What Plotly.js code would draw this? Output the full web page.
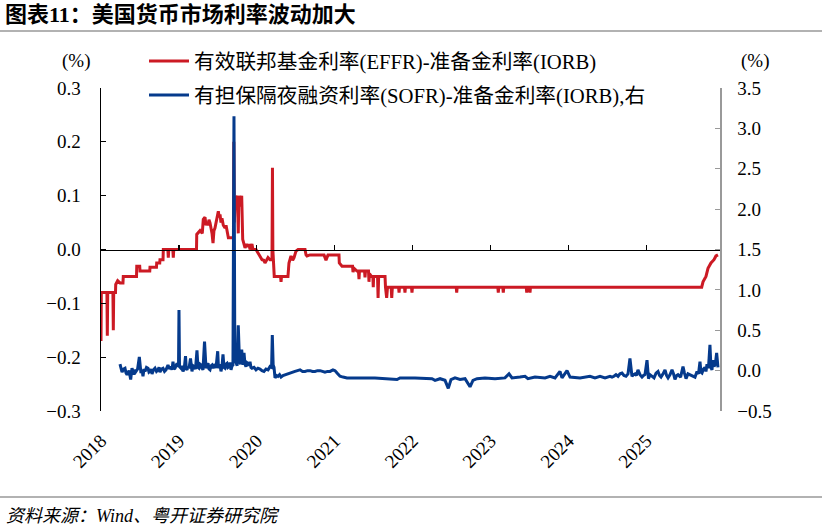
<!DOCTYPE html>
<html><head><meta charset="utf-8">
<script src="https://cdn.plot.ly/plotly-3.0.1.min.js"></script>
<style>html,body{margin:0;padding:0;background:#fff;}#chart{width:822px;height:530px;}</style>
</head><body><div id="chart"></div>
<script>
// ---- data (x in decimal years) ----
const yearTicks = [2018, 2019, 2020, 2021, 2022, 2023, 2024, 2025];
const yearLabels = ['2018', '2019', '2020', '2021', '2022', '2023', '2024', '2025'];
const leftTicks = [-0.3, -0.2, -0.1, 0.0, 0.1, 0.2, 0.3];
const rightTicks = [-0.5, 0.0, 0.5, 1.0, 1.5, 2.0, 2.5, 3.0, 3.5];

const effrName = '有效联邦基金利率(EFFR)-准备金利率(IORB)';
const sofrName = '有担保隔夜融资利率(SOFR)-准备金利率(IORB),右';

const effrDates = [
2018.000,2018.004,2018.076,2018.081,2018.086,2018.153,2018.158,2018.163,2018.186,2018.189,
2018.214,2018.244,2018.282,2018.286,2018.456,2018.459,2018.497,2018.501,2018.626,2018.629,
2018.712,2018.715,2018.754,2018.757,2018.796,2018.800,2018.858,2018.864,2018.870,2018.922,
2018.928,2018.934,2019.226,2019.229,2019.271,2019.300,2019.313,2019.335,2019.348,2019.361,
2019.373,2019.386,2019.399,2019.412,2019.425,2019.438,2019.450,2019.463,2019.485,2019.506,
2019.517,2019.528,2019.540,2019.553,2019.570,2019.592,2019.605,2019.617,2019.635,2019.656,
2019.700,2019.705,2019.712,2019.722,2019.735,2019.752,2019.762,2019.770,2019.790,2019.806,
2019.812,2019.819,2019.849,2019.870,2019.887,2019.900,2019.913,2019.938,2019.950,2019.990,
2020.010,2020.041,2020.067,2020.090,2020.105,2020.125,2020.144,2020.170,2020.195,2020.201,
2020.206,2020.224,2020.305,2020.311,2020.317,2020.400,2020.413,2020.439,2020.460,2020.478,
2020.503,2020.530,2020.555,2020.619,2020.632,2020.644,2020.683,2020.863,2020.888,2020.914,
2021.055,2021.059,2021.094,2021.229,2021.235,2021.248,2021.286,2021.305,2021.312,2021.318,
2021.383,2021.389,2021.395,2021.434,2021.440,2021.446,2021.472,2021.490,2021.495,2021.500,
2021.550,2021.557,2021.564,2021.646,2021.652,2021.667,2021.678,2021.725,2021.732,2021.740,
2021.820,2021.826,2021.832,2021.896,2021.902,2021.908,2021.986,2021.992,2021.998,2022.560,
2022.566,2022.572,2023.094,2023.100,2023.106,2023.158,2023.164,2023.170,2023.459,2023.465,
2023.471,2023.501,2023.507,2023.513,2025.711,2025.728,2025.766,2025.792,2025.830,2025.869,
2025.894,2025.920];
const effrSpread = [
-0.17,-0.08,-0.08,-0.16,-0.08,-0.08,-0.15,-0.08,-0.08,-0.065,
-0.058,-0.062,-0.062,-0.05,-0.05,-0.031,-0.031,-0.04,-0.04,-0.033,
-0.033,-0.025,-0.025,-0.019,-0.019,0,0,-0.015,0,0,
-0.015,0,0,0.028,0.035,0.03,0.056,0.06,0.045,0.05,
0.045,0.055,0.05,0.04,0.03,0.012,0.035,0.04,0.055,0.071,
0.06,0.065,0.05,0.058,0.045,0.04,0.045,0.034,0.022,0.022,
0.022,0.20,0.05,0.10,0.09,0.10,0.03,0.10,0.08,0.10,
0.03,0.019,0.003,0.01,0.005,0.01,0.0,0.01,0,0,
-0.005,-0.012,-0.019,-0.02,-0.025,-0.02,-0.015,-0.019,-0.019,0.152,
0.0,-0.05,-0.05,-0.06,-0.05,-0.05,-0.025,-0.012,-0.02,-0.015,
-0.003,0,0,0,-0.01,-0.012,-0.01,-0.01,-0.02,-0.01,
-0.01,-0.025,-0.031,-0.031,-0.042,-0.035,-0.04,-0.04,-0.055,-0.04,
-0.04,-0.052,-0.04,-0.04,-0.06,-0.045,-0.05,-0.05,-0.07,-0.05,
-0.05,-0.09,-0.05,-0.05,-0.07,-0.09,-0.07,-0.07,-0.09,-0.07,
-0.07,-0.08,-0.07,-0.07,-0.08,-0.07,-0.07,-0.08,-0.07,-0.07,
-0.08,-0.07,-0.07,-0.08,-0.07,-0.07,-0.08,-0.07,-0.07,-0.08,
-0.07,-0.07,-0.08,-0.07,-0.07,-0.06,-0.05,-0.035,-0.025,-0.019,
-0.012,-0.01];

const sofrDates = [
2018.244,2018.257,2018.270,2018.289,2018.308,2018.321,2018.334,2018.360,2018.381,2018.398,
2018.411,2018.424,2018.437,2018.449,2018.470,2018.492,2018.513,2018.526,2018.539,2018.552,
2018.565,2018.584,2018.603,2018.616,2018.629,2018.642,2018.655,2018.674,2018.693,2018.712,
2018.732,2018.745,2018.757,2018.776,2018.796,2018.815,2018.834,2018.847,2018.860,2018.880,
2018.899,2018.911,2018.924,2018.937,2018.950,2018.963,2018.976,2018.995,2019.001,2019.008,
2019.027,2019.040,2019.053,2019.070,2019.085,2019.095,2019.104,2019.117,2019.130,2019.149,
2019.160,2019.168,2019.181,2019.194,2019.213,2019.232,2019.245,2019.258,2019.271,2019.284,
2019.297,2019.309,2019.329,2019.340,2019.348,2019.361,2019.374,2019.387,2019.399,2019.412,
2019.425,2019.438,2019.451,2019.463,2019.476,2019.498,2019.507,2019.515,2019.528,2019.540,
2019.553,2019.566,2019.579,2019.592,2019.605,2019.617,2019.630,2019.643,2019.656,2019.669,
2019.682,2019.694,2019.707,2019.718,2019.733,2019.748,2019.762,2019.778,2019.792,2019.806,
2019.823,2019.836,2019.848,2019.861,2019.874,2019.887,2019.900,2019.913,2019.925,2019.938,
2019.964,2019.990,2020.015,2020.041,2020.067,2020.092,2020.118,2020.144,2020.170,2020.190,
2020.199,2020.210,2020.221,2020.234,2020.253,2020.272,2020.292,2020.311,2020.336,2020.362,
2020.394,2020.426,2020.458,2020.490,2020.522,2020.555,2020.587,2020.619,2020.651,2020.683,
2020.715,2020.747,2020.779,2020.811,2020.843,2020.875,2020.908,2020.940,2020.978,2021.004,
2021.030,2021.068,2021.107,2021.158,2021.325,2021.517,2021.800,2021.838,2022.031,2022.249,
2022.288,2022.352,2022.416,2022.458,2022.493,2022.544,2022.609,2022.673,2022.737,2022.775,
2022.827,2022.929,2023.058,2023.186,2023.238,2023.276,2023.379,2023.443,2023.481,2023.571,
2023.700,2023.764,2023.828,2023.892,2023.918,2023.982,2024.021,2024.149,2024.277,2024.341,
2024.406,2024.470,2024.534,2024.560,2024.585,2024.611,2024.637,2024.662,2024.688,2024.713,
2024.739,2024.765,2024.790,2024.816,2024.835,2024.855,2024.874,2024.893,2024.919,2024.945,
2024.964,2024.983,2025.009,2025.028,2025.047,2025.073,2025.099,2025.125,2025.150,2025.170,
2025.189,2025.215,2025.240,2025.260,2025.279,2025.305,2025.330,2025.350,2025.368,2025.390,
2025.407,2025.440,2025.471,2025.490,2025.510,2025.535,2025.561,2025.593,2025.625,2025.651,
2025.670,2025.689,2025.702,2025.715,2025.734,2025.753,2025.766,2025.779,2025.798,2025.817,
2025.830,2025.843,2025.856,2025.869,2025.886,2025.903,2025.912,2025.920];
const sofrSpread = [
0.08,0.01,-0.02,0.02,0.03,-0.03,-0.05,0.0,-0.11,0.03,
-0.02,-0.05,0.01,-0.01,0.02,0.17,-0.03,0.01,-0.07,0.02,
-0.01,0.04,0.03,-0.02,-0.01,0.02,-0.04,0.01,0.03,-0.01,
0.01,0.04,-0.02,0.02,0.03,-0.01,0.01,0.05,0.07,0.02,
0.05,0.01,0.11,0.02,0.03,0.06,0.09,0.05,0.75,0.05,
0.03,0.06,-0.01,0.04,0.18,0.02,0.01,0.05,0.03,0.15,
0.02,-0.01,0.06,0.05,0.02,0.25,0.04,0.03,0.08,0.07,
0.03,0.01,0.36,0.04,0.03,0.07,0.09,0.02,0.01,0.06,
0.07,0.03,0.05,0.08,0.03,0.24,0.06,0.03,0.08,-0.01,
0.05,0.20,0.04,0.03,0.08,0.09,0.04,0.05,0.10,0.01,
0.06,0.07,3.15,0.13,0.10,0.06,0.56,0.11,0.08,0.26,
0.07,0.22,0.08,0.05,0.10,0.09,0.06,0.11,0.04,0.03,
0.04,0.01,0.03,0.02,0.0,-0.01,0.02,0.01,0.05,0.04,
0.44,0.07,0.04,-0.09,-0.06,-0.07,-0.05,-0.08,-0.06,-0.05,
-0.04,-0.03,-0.02,-0.01,0.0,0.01,-0.01,-0.01,0.0,0.0,
-0.01,-0.01,0.0,0.0,-0.01,-0.02,-0.01,-0.01,0.01,0.0,
-0.03,-0.07,-0.08,-0.09,-0.09,-0.09,-0.11,-0.09,-0.09,-0.10,
-0.12,-0.10,-0.12,-0.22,-0.11,-0.09,-0.11,-0.10,-0.20,-0.12,
-0.10,-0.09,-0.10,-0.09,-0.04,-0.09,-0.08,-0.07,-0.10,-0.08,
-0.09,-0.07,-0.09,-0.01,-0.09,0.0,-0.08,-0.09,-0.07,-0.09,
-0.07,-0.09,-0.07,-0.08,-0.07,-0.05,-0.07,-0.04,-0.03,-0.06,
-0.07,-0.04,0.15,-0.07,-0.05,-0.04,-0.06,0.01,-0.05,-0.08,
-0.06,-0.05,0.13,-0.10,-0.05,-0.07,-0.09,-0.03,-0.01,-0.06,
-0.08,-0.04,0.01,-0.06,-0.09,-0.05,0.01,-0.04,-0.11,-0.06,
-0.05,-0.08,0.05,-0.03,-0.10,-0.04,-0.05,-0.07,-0.08,-0.01,
-0.04,0.11,-0.02,-0.03,0.02,0.04,-0.01,0.08,0.03,0.32,
0.04,0.01,0.13,0.05,0.08,0.22,0.06,0.04];

// ---- layout helpers (pixel -> paper) ----
const L = 101, R = 720, T = 88, B = 411;
const fx = p => (p - L) / (R - L);
const fy = p => (B - p) / (B - T);
const serif = 'Liberation Serif, "Noto Sans CJK SC", serif';

const traces = [
  {x: effrDates, y: effrSpread, name: effrName, type: 'scatter', mode: 'lines',
   xaxis: 'x', yaxis: 'y', legend: 'legend',
   line: {color: '#CC1A24', width: 3}, hoverinfo: 'skip'},
  {x: sofrDates, y: sofrSpread, name: sofrName, type: 'scatter', mode: 'lines',
   xaxis: 'x', yaxis: 'y2', legend: 'legend2',
   line: {color: '#053A8C', width: 3}, hoverinfo: 'skip'},
  {x: [yearTicks[0]], y: [0], xaxis: 'x2', yaxis: 'y', type: 'scatter', mode: 'lines',
   showlegend: false, hoverinfo: 'skip', line: {width: 0}}
];

const xr = [2018, 2025.946];
const layout = {
  width: 822, height: 530,
  margin: {l: L, r: 822 - R, t: T, b: 530 - B, pad: 0},
  paper_bgcolor: '#fff', plot_bgcolor: '#fff',
  font: {family: serif, color: '#000', size: 19},
  title: {text: '<b>图表11：美国货币市场利率波动加大</b>', xref: 'container', yref: 'container',
          x: 5 / 822, xanchor: 'left', y: 1 - 7 / 530, yanchor: 'top',
          font: {family: serif, size: 22, color: '#000'}},
  xaxis: {range: xr, tickmode: 'array', tickvals: yearTicks, ticktext: yearLabels,
          tickangle: -45, showline: false, ticks: '', showgrid: false, zeroline: false,
          ticklabelstandoff: 14,
          tickfont: {family: serif, size: 19, color: '#000'}, fixedrange: true},
  xaxis2: {range: xr, overlaying: 'x', anchor: 'free', position: 0.5,
           tickmode: 'array', tickvals: yearTicks, showticklabels: false,
           ticks: 'inside', ticklen: 5, tickwidth: 1.2, tickcolor: '#000',
           showline: true, linecolor: '#000', linewidth: 1.5, showgrid: false, zeroline: false},
  yaxis: {range: [-0.3, 0.3], tickmode: 'array', tickvals: leftTicks,
          tickformat: '.1f', ticks: 'inside', ticklen: 5, tickcolor: '#000', tickwidth: 1.2,
          showline: true, linecolor: '#000', linewidth: 1.5, showgrid: false, zeroline: false,
          ticklabelstandoff: 15, tickfont: {family: serif, size: 19, color: '#000'}},
  yaxis2: {range: [-0.5, 3.5], overlaying: 'y', side: 'right', tickmode: 'array', tickvals: rightTicks,
           tickformat: '.1f', ticks: 'inside', ticklen: 5, tickcolor: '#999', tickwidth: 1.2,
           showline: true, linecolor: '#999', linewidth: 1.5, showgrid: false, zeroline: false,
           ticklabelstandoff: 12, tickfont: {family: serif, size: 19, color: '#000'}},
  legend: {x: fx(144), y: fy(41), xanchor: 'left', yanchor: 'top', bgcolor: 'rgba(0,0,0,0)',
           font: {family: serif, size: 20.7, color: '#000'}, itemwidth: 40},
  legend2: {x: fx(144), y: fy(75), xanchor: 'left', yanchor: 'top', bgcolor: 'rgba(0,0,0,0)',
            font: {family: serif, size: 20.7, color: '#000'}, itemwidth: 40},
  annotations: [
    {text: '(%)', xref: 'paper', yref: 'paper', x: fx(76), y: fy(61), xanchor: 'center', yanchor: 'middle',
     showarrow: false, font: {family: serif, size: 19, color: '#000'}},
    {text: '(%)', xref: 'paper', yref: 'paper', x: fx(755), y: fy(61), xanchor: 'center', yanchor: 'middle',
     showarrow: false, font: {family: serif, size: 19, color: '#000'}},
    {text: '<i>资料来源：Wind、粤开证券研究院</i>', xref: 'paper', yref: 'paper', x: fx(4), y: fy(516),
     xanchor: 'left', yanchor: 'middle', showarrow: false, font: {family: serif, size: 18, color: '#000'}}
  ],
  shapes: [
    {type: 'line', xref: 'paper', yref: 'paper', x0: fx(0), x1: fx(822), y0: fy(31), y1: fy(31),
     line: {color: '#999', width: 1.5}},
    {type: 'line', xref: 'paper', yref: 'paper', x0: fx(0), x1: fx(822), y0: fy(497), y1: fy(497),
     line: {color: '#999', width: 1.5}}
  ],
  showlegend: true
};

Plotly.newPlot('chart', traces, layout, {staticPlot: true, displayModeBar: false});
</script>
</body></html>
